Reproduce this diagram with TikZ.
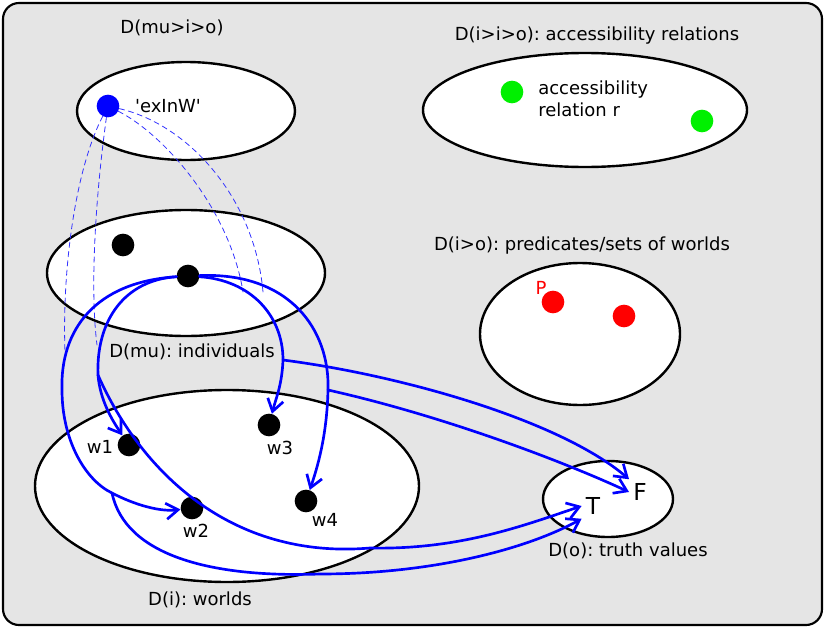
\documentclass[tikz,border=0pt]{standalone}
\usepackage{fontspec}
\setmainfont{DejaVu Sans}
\usepackage{tikz}
\usetikzlibrary{arrows.meta}
\usetikzlibrary{positioning}
\frenchspacing

\definecolor{bggray}{RGB}{229,229,229}
\definecolor{accgreen}{RGB}{0,240,0}

\tikzset{
  dom/.style={draw=black,fill=white,line width=1.8pt},
  elem/.style={circle,fill=black,minimum size=17pt,inner sep=0pt},
  fn/.style={draw=blue,line width=2pt,->},
  link/.style={draw=blue!80,line width=0.6pt,dash pattern=on 4pt off 3pt},
  lbl/.style={font=\fontsize{13.5}{16.5}\selectfont,inner sep=0pt},
  tv/.style={font=\fontsize{17.5}{20}\selectfont,inner sep=3pt}
}

\begin{document}
\begin{tikzpicture}[x=0.75pt,y=-0.75pt,line cap=round,line join=round,>={Straight Barb[length=9pt,width=12pt]}]
        \useasboundingbox (0,0) rectangle (825,628);
        \draw[fill=bggray,line width=1.6pt,rounded corners=12pt] (3,3) rectangle (822,625);
        %
        \draw[dom] (186,111) ellipse [x radius=109,y radius=49];
        \draw[dom] (186,273) ellipse [x radius=139,y radius=63];
        \draw[dom] (227,486) ellipse [x radius=192,y radius=96];
        \draw[dom] (608,499) ellipse [x radius=65,y radius=38];
        \draw[dom] (585,110) ellipse [x radius=162,y radius=57];
        \draw[dom] (580,334) ellipse [x radius=100,y radius=71];
        %
        \node[lbl] (lmio) at (172,28) {D(mu>i>o)};
        \node[lbl] (lmu) at (192,352) {D(mu): individuals};
        \node[lbl] (li) at (200,600) {D(i): worlds};
        \node[lbl] (lo) at (628,551) {D(o): truth values};
        \node[lbl] (liio) at (597,36) {D(i>i>o): accessibility relations};
        \node[lbl] (lio) at (582,246) {D(i>o): predicates/sets of worlds};
        \node[lbl,anchor=west,align=left] (lr) at (538,99) {accessibility\\relation r};
        \node[lbl] (lxw) at (168,106) {\textquotesingle exInW\textquotesingle};
        %
        \node[elem,fill=blue] (xw) at (108,106) {};
        \node[elem] (ind1) at (123,245) {};
        \node[elem] (ind) at (188,276) {};
        \node[elem] (w1) at (129,445) {};
        \node[elem] (w2) at (192,508) {};
        \node[elem] (w3) at (269,425) {};
        \node[elem] (w4) at (306,501) {};
        \node[lbl] (lw1) at (100,447) {w1};
        \node[lbl] (lw2) at (196,531) {w2};
        \node[lbl] (lw3) at (280,448) {w3};
        \node[lbl] (lw4) at (325,520) {w4};
        \node[elem,fill=accgreen] (r1) at (512,92) {};
        \node[elem,fill=accgreen] (r2) at (702,121) {};
        \node[elem,fill=red] (p1) at (553,302) {};
        \node[elem,fill=red] (p2) at (624,316) {};
        \node[lbl,text=red] (lp) at (541,288) {P};
        \node[tv] (T) at (593,506) {T};
        \node[tv] (F) at (640,492) {F};
        %
        \coordinate (a2) at (62,390);
        \coordinate (a5) at (112,493);
        \coordinate (b1) at (98,375);
        \coordinate (c5) at (370,548);
        \coordinate (d5) at (320,574);
        \coordinate (e3) at (283,360);
        \coordinate (f4) at (328,390);
        \coordinate (m1) at (65,352);
        \coordinate (m2) at (97,345);
        \coordinate (m3) at (243,292);
        \coordinate (m4) at (263,292);
        %
        \draw[link] (xw) .. controls (75,170) and (62,270) .. (m1);
        \draw[link] (xw) .. controls (95,200) and (90,290) .. (m2);
        \draw[link] (xw) .. controls (165,135) and (230,210) .. (m3);
        \draw[link] (xw) .. controls (190,125) and (255,200) .. (m4);
        %
        \draw[fn] (ind) .. controls (95,282) and (60,330) .. (a2) .. controls (62,440) and (85,480) .. (a5) .. controls (135,505) and (160,512) .. (w2);
        \draw[fn] (ind) .. controls (125,280) and (96,320) .. (b1) .. controls (100,400) and (112,420) .. (w1);
        \draw[fn] (ind) .. controls (250,280) and (283,315) .. (e3) .. controls (282,385) and (276,398) .. (w3);
        \draw[fn] (ind) .. controls (290,272) and (330,330) .. (f4) .. controls (327,430) and (320,460) .. (w4);
        %
        \draw[fn] (b1) .. controls (140,470) and (230,560) .. (c5) .. controls (460,550) and (525,525) .. (T.west);
        \draw[fn] (a5) .. controls (125,555) and (210,578) .. (d5) .. controls (430,574) and (525,550) .. (T.south west);
        \draw[fn] (e3) .. controls (400,375) and (560,420) .. (F.north west);
        \draw[fn] (f4) .. controls (440,415) and (560,460) .. (F.west);
      \end{tikzpicture}
\end{document}
